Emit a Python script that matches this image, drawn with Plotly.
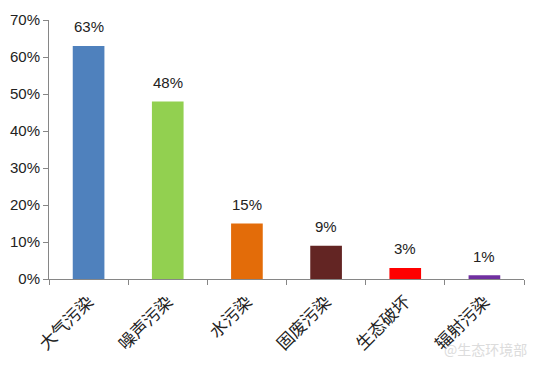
import plotly.graph_objects as go

categories = ["大气污染", "噪声污染", "水污染", "固废污染", "生态破坏", "辐射污染"]
values = [63, 48, 15, 9, 3, 1]
labels = ["63%", "48%", "15%", "9%", "3%", "1%"]
colors = ["#4F81BD", "#92D050", "#E36C09", "#632523", "#FF0000", "#7030A0"]
y_ticks = [0, 10, 20, 30, 40, 50, 60, 70]
y_ticklabels = ["0%", "10%", "20%", "30%", "40%", "50%", "60%", "70%"]

fig = go.Figure()
fig.add_trace(go.Bar(x=categories, y=values, marker_color=colors, width=0.4,
                     marker_line_width=0))

for c, v, t in zip(categories, values, labels):
    fig.add_annotation(x=c, y=v, text=t, showarrow=False, yshift=19, yanchor="middle",
                       font=dict(size=15, color="#222", family="Liberation Sans, Arial"))

fig.add_annotation(xref="paper", yref="paper", x=1.01, y=-0.27, text="@生态环境部",
                   showarrow=False, xanchor="right", yanchor="middle",
                   font=dict(size=14, color="#dcdcdc", family="Noto Sans CJK SC"))

# page body adds an 8px offset, so the figure is sized to fit within 538x365
fig.update_layout(
    width=530, height=357,
    margin=dict(l=41, r=14, t=12, b=86),
    paper_bgcolor="white", plot_bgcolor="white",
    showlegend=False,
    bargap=0.6,
)
fig.update_xaxes(
    automargin=False,
    showline=True, linecolor="#868686", linewidth=1,
    ticks="outside", tickson="boundaries", ticklen=5, tickcolor="#868686",
    tickangle=-45, showgrid=False, ticklabelstandoff=5,
    tickfont=dict(size=17, color="#222", family="Noto Sans CJK SC"),
)
fig.update_yaxes(
    automargin=False,
    range=[0, 70], tickvals=y_ticks, ticktext=y_ticklabels,
    showline=True, linecolor="#868686", linewidth=1,
    ticks="outside", ticklen=5, tickcolor="#868686",
    showgrid=False, zeroline=False,
    tickfont=dict(size=15, color="#222", family="Liberation Sans, Arial"),
)

fig.write_html("out.html")
